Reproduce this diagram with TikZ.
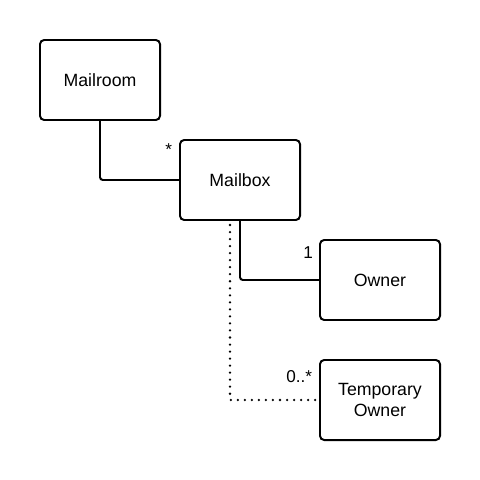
\documentclass[tikz,border=0pt]{standalone}
\usepackage{fontspec}
\setmainfont{Liberation Sans}
\usetikzlibrary{positioning, calc}

\begin{document}
\begin{tikzpicture}[
        x=0.025cm, y=-0.025cm,
        cbox/.style={rectangle, draw=black, fill=white, line width=1.4pt, rounded corners=3pt, minimum width=3.0cm, minimum height=2.0cm, align=center, font=\fontsize{12.6}{15.6}\selectfont},
        wire/.style={draw=black, line width=1.4pt, rounded corners=2pt},
        dwire/.style={draw=black, line width=1.8pt, line cap=round, dash pattern=on 0pt off 5pt},
        mult/.style={font=\fontsize{12.2}{14}\selectfont}
    ]
        \useasboundingbox (0,0) rectangle (480,480);

        % Clases del diagrama
        \node [cbox] (mailroom) at (100, 80) {Mailroom};
        \node [cbox] (mailbox) at (240, 180) {Mailbox};
        \node [cbox] (owner) at (380, 280) {Owner};
        \node [cbox] (temp) at (380, 400) {Temporary\\Owner};

        % Asociaciones
        \draw [wire] (mailroom.south) |- (mailbox.west);
        \node [mult, anchor=south east] (starlbl) at ($(mailbox.west)+(-2, -20)$) {*};

        \draw [wire] (mailbox.south) |- (owner.west);
        \node [mult, anchor=south east] (onelbl) at ($(owner.west)+(-1, -17)$) {1};

        \draw [dwire] ($(mailbox.south)+(-10, 4)$) coordinate (dstart) |- (temp.west);
        \node [mult, anchor=south east] (manylbl) at ($(temp.west)+(-2, -12)$) {0..*};
    \end{tikzpicture}
\end{document}
